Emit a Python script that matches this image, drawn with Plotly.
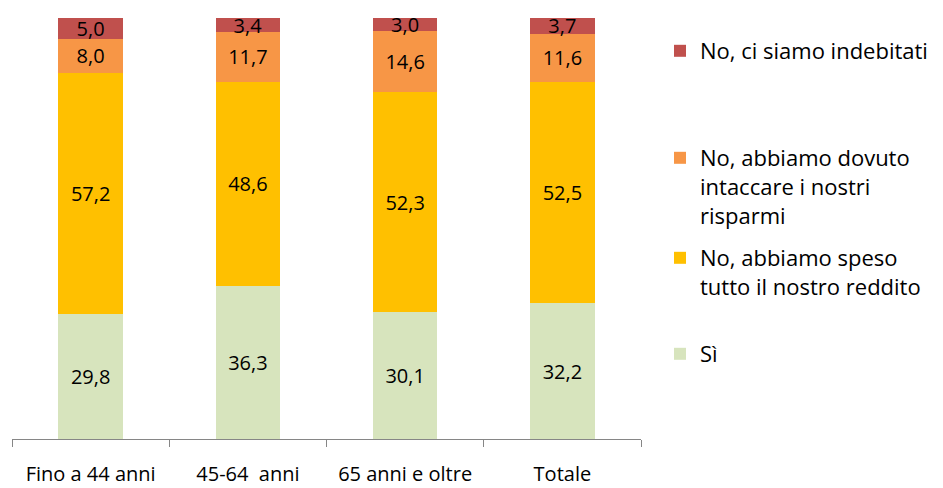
import plotly.graph_objects as go

categories = ["Fino a 44 anni", "45-64\u00a0 anni", "65 anni e oltre", "Totale"]
series_names = ["Sì", "No, abbiamo speso<br>tutto il nostro reddito",
                "No, abbiamo dovuto<br>intaccare i nostri<br>risparmi", "No, ci siamo indebitati"]
si = [29.8, 36.3, 30.1, 32.2]
speso = [57.2, 48.6, 52.3, 52.5]
intaccare = [8.0, 11.7, 14.6, 11.6]
indebitati = [5.0, 3.4, 3.0, 3.7]

values = [si, speso, intaccare, indebitati]
colors = ["#D7E4BD", "#FFC000", "#F79646", "#C0504D"]
legend_ids = ["legend4", "legend3", "legend2", "legend"]
legend_y_px = [333, 237, 137, 30]

W, H = 943, 488
FONT = "'Open Sans', sans-serif"

fig = go.Figure()
for name, vals, col, lid in zip(series_names, values, colors, legend_ids):
    fig.add_trace(go.Bar(
        x=categories, y=vals, name=name, marker=dict(color=col, line=dict(width=0)),
        text=vals, texttemplate="%{y:.1f}", textposition="inside",
        insidetextanchor="middle", constraintext="none",
        textfont=dict(color="black", size=20, family=FONT),
        legend=lid, hoverinfo="skip",
    ))

layout_legends = {}
for lid, ypx in zip(legend_ids, legend_y_px):
    layout_legends[lid] = dict(
        xref="container", yref="container", x=660 / W, y=1 - ypx / H,
        xanchor="left", yanchor="top", valign="top",
        font=dict(size=22, family=FONT, color="black"),
        bgcolor="rgba(0,0,0,0)", borderwidth=0,
    )

fig.update_layout(
    barmode="stack", bargap=0.59,
    separators=",.",
    width=W, height=H,
    margin=dict(l=12, r=302, t=18, b=49, autoexpand=False),
    plot_bgcolor="white", paper_bgcolor="white",
    showlegend=True,
    xaxis=dict(showline=True, linecolor="#868686", linewidth=1,
               ticks="outside", tickson="boundaries", ticklen=7, tickcolor="#868686",
               tickfont=dict(size=20, family=FONT, color="black"),
               ticklabelstandoff=17, showgrid=False, automargin=False),
    yaxis=dict(range=[0, 100], visible=False, showgrid=False, automargin=False),
    **layout_legends,
)

fig.write_html("out.html", config={"displayModeBar": False},
               post_script="document.body.style.margin='0';")
